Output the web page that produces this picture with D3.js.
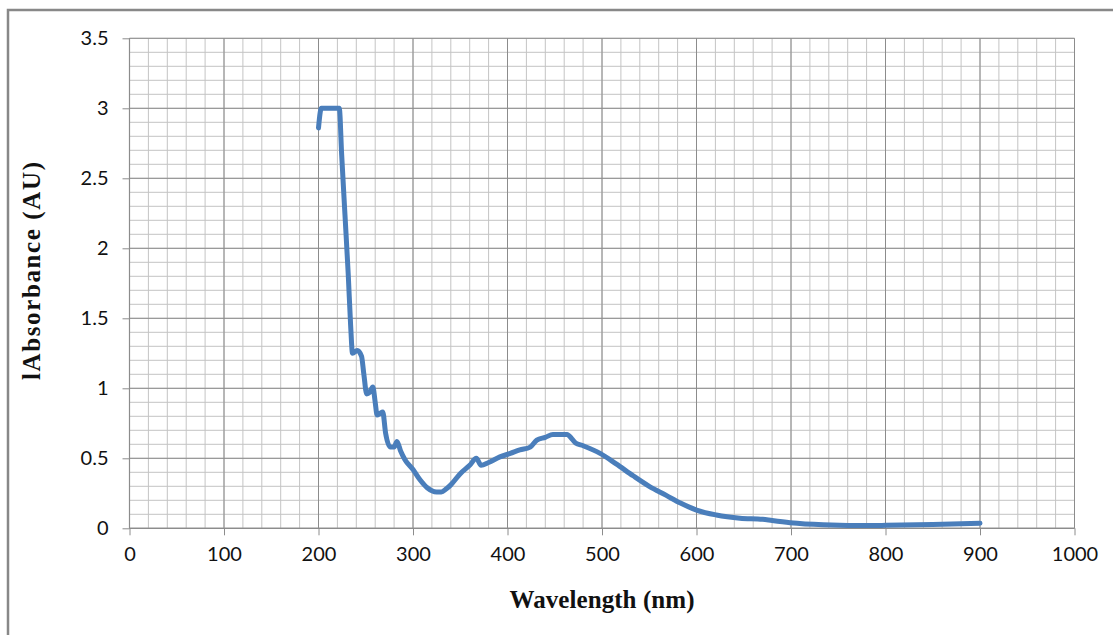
<!DOCTYPE html>
<html>
<head>
<meta charset="utf-8">
<script src="https://cdn.jsdelivr.net/npm/d3@7"></script>
<style>
  body { margin: 0; background: #fff; }
  .tick text { font-family: Lato, "Liberation Sans", sans-serif; font-size: 20px; fill: #111; }
  .title { font-family: "Liberation Serif", "Times New Roman", serif; font-weight: bold; font-size: 25px; fill: #111; }
</style>
</head>
<body>
<svg id="chart" width="1113" height="635"></svg>
<script>
// wavelength (nm) and absorbance (AU)
let wavelength = [200, 203, 210, 222, 224.5, 228, 231.5, 234, 236, 241, 245.5, 248, 251, 254, 257.5, 260, 262, 265, 268, 271, 276, 280, 283, 287, 291.5, 300, 307, 315, 325, 330, 335, 340, 350, 360, 367, 372, 380, 392, 403, 413, 424, 431, 440, 448, 455, 463, 468, 472, 480, 498, 515, 533, 550, 568, 583, 600, 621, 646, 670, 680, 699, 734, 787, 800, 850, 900];
let absorbance = [2.86, 3.0, 3.0, 3.0, 2.67, 2.24, 1.81, 1.45, 1.25, 1.27, 1.23, 1.1, 0.96, 0.97, 1.01, 0.9, 0.81, 0.82, 0.83, 0.68, 0.58, 0.58, 0.62, 0.55, 0.49, 0.42, 0.35, 0.29, 0.26, 0.26, 0.28, 0.31, 0.39, 0.45, 0.50, 0.45, 0.47, 0.51, 0.535, 0.56, 0.58, 0.63, 0.65, 0.67, 0.67, 0.67, 0.64, 0.61, 0.59, 0.535, 0.46, 0.375, 0.3, 0.235, 0.18, 0.13, 0.095, 0.072, 0.064, 0.055, 0.04, 0.026, 0.02, 0.021, 0.027, 0.036];

let xMajor = d3.range(0, 1001, 100);
let xMinor = d3.range(0, 1001, 20);
let yMajor = [0, 0.5, 1, 1.5, 2, 2.5, 3, 3.5];
let yMinor = d3.range(0, 36).map(i => i / 10);

let svg = d3.select("#chart");

// outer frame of the chart object
svg.append("rect")
    .attr("x", 8).attr("y", 10)
    .attr("width", 1200).attr("height", 700)
    .attr("fill", "none")
    .attr("stroke", "#888")
    .attr("stroke-width", 2.5);

let pLeft = 129.5, pRight = 1074.5, pTop = 38.3, pBottom = 528.3;

let x = d3.scaleLinear().domain([0, 1000]).range([pLeft, pRight]);
let y = d3.scaleLinear().domain([0, 3.5]).range([pBottom, pTop]);

let grid = svg.append("g");

// minor grid first, major on top
grid.selectAll(".vminor")
    .data(xMinor).enter().append("line")
    .attr("x1", d => x(d)).attr("x2", d => x(d))
    .attr("y1", pTop).attr("y2", pBottom)
    .attr("stroke", "#c4c4c4").attr("stroke-width", 1);

grid.selectAll(".hminor")
    .data(yMinor).enter().append("line")
    .attr("x1", pLeft).attr("x2", pRight)
    .attr("y1", d => y(d)).attr("y2", d => y(d))
    .attr("stroke", "#c4c4c4").attr("stroke-width", 1);

grid.selectAll(".vmajor")
    .data(xMajor).enter().append("line")
    .attr("x1", d => x(d)).attr("x2", d => x(d))
    .attr("y1", pTop).attr("y2", pBottom)
    .attr("stroke", "#8c8c8c").attr("stroke-width", 1);

grid.selectAll(".hmajor")
    .data(yMajor).enter().append("line")
    .attr("x1", pLeft).attr("x2", pRight)
    .attr("y1", d => y(d)).attr("y2", d => y(d))
    .attr("stroke", "#8c8c8c").attr("stroke-width", 1);

// axes
let xAxis = svg.append("g")
    .attr("transform", "translate(0," + pBottom + ")")
    .call(d3.axisBottom(x).tickValues(xMajor).tickFormat(d3.format("d")).tickSize(7).tickPadding(12));

let yAxis = svg.append("g")
    .attr("transform", "translate(" + pLeft + ",0)")
    .call(d3.axisLeft(y).tickValues(yMajor).tickFormat(d => String(d)).tickSize(7).tickPadding(14));

svg.selectAll(".domain").attr("stroke", "#8c8c8c").attr("stroke-width", 1.2);
svg.selectAll(".tick line").attr("stroke", "#8c8c8c");
yAxis.selectAll(".domain").attr("d", "M0," + pBottom + "V" + pTop);
xAxis.selectAll(".domain").attr("d", "M" + pLeft + ",0H" + pRight);

// spectrum
let line = d3.line()
    .x((d, i) => x(wavelength[i]))
    .y(d => y(d))
    .curve(d3.curveMonotoneX);

svg.append("path")
    .datum(absorbance)
    .attr("d", line)
    .attr("fill", "none")
    .attr("stroke", "#4a7ebb")
    .attr("stroke-width", 5)
    .attr("stroke-linejoin", "round")
    .attr("stroke-linecap", "round");

// titles
svg.append("text")
    .attr("class", "title")
    .attr("x", 602)
    .attr("y", 608)
    .attr("text-anchor", "middle")
    .attr("textLength", 185)
    .text("Wavelength (nm)");

svg.append("text")
    .attr("class", "title")
    .attr("transform", "translate(40,271) rotate(-90)")
    .attr("text-anchor", "middle")
    .attr("textLength", 218)
    .attr("lengthAdjust", "spacing")
    .text("lAbsorbance (AU)");
</script>
</body>
</html>
